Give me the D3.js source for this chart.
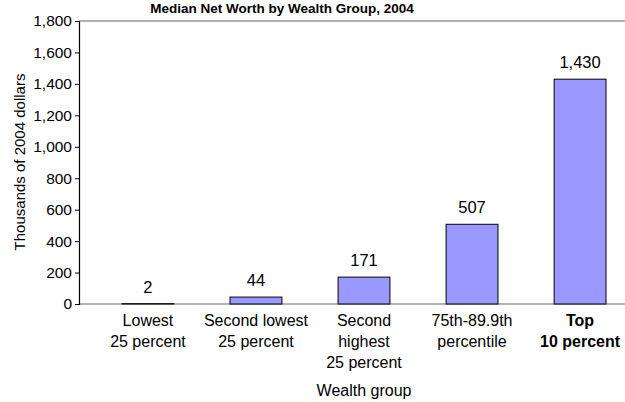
<!DOCTYPE html>
<html>
<head>
<meta charset="utf-8">
<script src="https://cdn.jsdelivr.net/npm/d3@7"></script>
<style>
  body { margin: 0; background: #fff; }
  text { font-family: Arial, "Liberation Sans", sans-serif; fill: #000; }
</style>
</head>
<body>
<div class="chart"></div>
<script>
// data
var groups = [
    ["Lowest", "25 percent"],
    ["Second lowest", "25 percent"],
    ["Second", "highest", "25 percent"],
    ["75th-89.9th", "percentile"],
    ["Top", "10 percent"]
];
var medians = [2, 44, 171, 507, 1430];
var yTicks = [0, 200, 400, 600, 800, 1000, 1200, 1400, 1600, 1800];

var width = 625,
    height = 402,
    margin = {top: 21, right: 0, bottom: 98, left: 79};

var svg = d3.select(".chart")
    .append("svg")
    .attr("width", width)
    .attr("height", height);

var x = d3.scaleBand()
    .domain(d3.range(medians.length))
    .range([122, 606])
    .paddingInner(0.52)
    .paddingOuter(0);

var y = d3.scaleLinear()
    .domain([0, 1800])
    .range([height - margin.bottom, margin.top]);

// top gridline + baseline (gray)
svg.append("line")
    .attr("x1", margin.left).attr("x2", width)
    .attr("y1", y(1800)).attr("y2", y(1800))
    .attr("stroke", "#999").attr("stroke-width", 1.5);

svg.append("line")
    .attr("x1", margin.left).attr("x2", width)
    .attr("y1", y(0)).attr("y2", y(0))
    .attr("stroke", "#999").attr("stroke-width", 1.5);

// y axis
var yAxis = svg.append("g")
    .attr("transform", "translate(" + margin.left + ",0)")
    .call(d3.axisLeft(y)
        .tickValues(yTicks)
        .tickSize(4)
        .tickPadding(3)
        .tickFormat(d3.format(",")));

yAxis.select(".domain").attr("stroke", "#000").attr("stroke-width", 1.2);
yAxis.selectAll(".tick line").attr("stroke", "#000");
yAxis.selectAll(".tick text")
    .style("font-size", "15.5px")
    .attr("fill", "#000");

// bars
svg.selectAll(".bar")
    .data(medians)
    .enter().append("rect")
    .attr("class", "bar")
    .attr("x", function (d, i) { return x(i); })
    .attr("width", x.bandwidth())
    .attr("y", function (d) { return y(d); })
    .attr("height", function (d) { return y(0) - y(d); })
    .attr("fill", "#9999ff")
    .attr("stroke", "#000")
    .attr("stroke-width", 1);

// value labels
svg.selectAll(".val")
    .data(medians)
    .enter().append("text")
    .attr("class", "val")
    .attr("x", function (d, i) { return x(i) + x.bandwidth() / 2; })
    .attr("y", function (d) { return y(d) - 11; })
    .attr("text-anchor", "middle")
    .style("font-size", "16.5px")
    .text(function (d) { return d3.format(",")(d); });

// category labels
var cat = svg.selectAll(".cat")
    .data(groups)
    .enter().append("text")
    .attr("class", "cat")
    .attr("text-anchor", "middle")
    .style("font-size", "16px")
    .style("font-weight", function (d, i) { return i === groups.length - 1 ? "bold" : "normal"; })
    .attr("transform", function (d, i) {
        return "translate(" + (x(i) + x.bandwidth() / 2) + "," + (y(0) + 22) + ")";
    });

cat.selectAll("tspan")
    .data(function (d) { return d; })
    .enter().append("tspan")
    .attr("x", 0)
    .attr("y", function (d, j) { return j * 21; })
    .text(function (d) { return d; });

// title
svg.append("text")
    .attr("x", 282)
    .attr("y", 13)
    .attr("text-anchor", "middle")
    .style("font-size", "13.5px")
    .style("font-weight", "bold")
    .text("Median Net Worth by Wealth Group, 2004");

// axis titles
svg.append("text")
    .attr("x", 364)
    .attr("y", 396)
    .attr("text-anchor", "middle")
    .style("font-size", "16px")
    .text("Wealth group");

svg.append("text")
    .attr("transform", "translate(25,162) rotate(-90)")
    .attr("text-anchor", "middle")
    .style("font-size", "15px")
    .text("Thousands of 2004 dollars");
</script>
</body>
</html>
